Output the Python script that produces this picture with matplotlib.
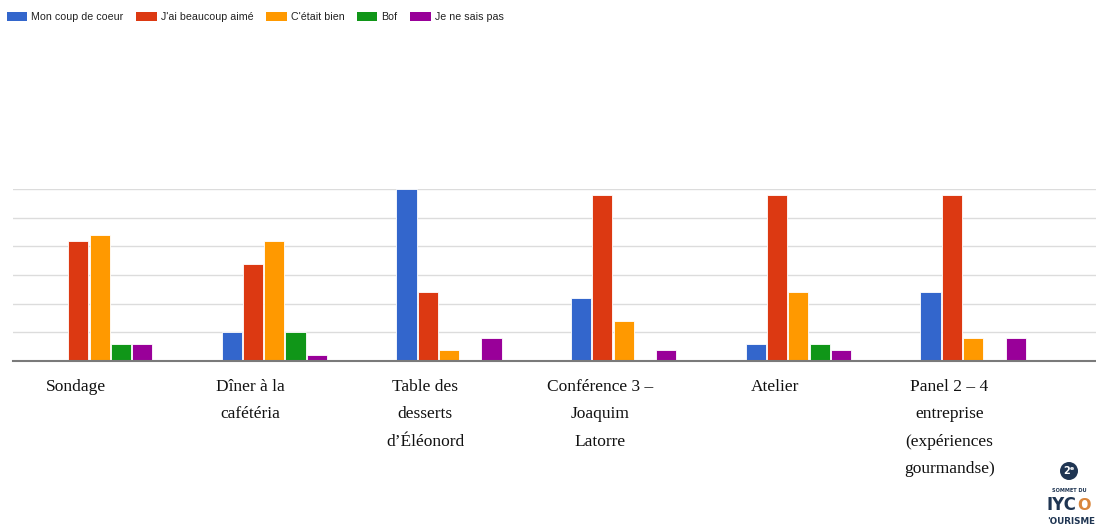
import numpy as np
import matplotlib
matplotlib.use("Agg")
import matplotlib.pyplot as plt
from matplotlib.patches import Rectangle, Ellipse

categories = [
    "Sondage",
    "Dîner à la\ncafétéria",
    "Table des\ndesserts\nd’Éléonord",
    "Conférence 3 –\nJoaquim\nLatorre",
    "Atelier",
    "Panel 2 – 4\nentreprise\n(expériences\ngourmandse)",
]
series_names = ["Mon coup de coeur", "J'ai beaucoup aimé", "C'était bien", "Bof", "Je ne sais pas"]
coup_de_coeur = [0, 5, 30, 11, 3, 12]
beaucoup_aime = [21, 17, 12, 29, 29, 29]
etait_bien = [22, 21, 2, 7, 12, 4]
bof = [3, 5, 0, 0, 3, 0]
ne_sais_pas = [3, 1, 4, 2, 2, 4]
yticks = [0, 5, 10, 15, 20, 25, 30]

couleurs = ["#3366CC", "#DC3912", "#FF9900", "#109618", "#990099"]
valeurs = [coup_de_coeur, beaucoup_aime, etait_bien, bof, ne_sais_pas]

W, H = 1096, 531
fig = plt.figure(figsize=(W / 100, H / 100), dpi=100)
ax = fig.add_axes([13 / W, 1 - 361 / H, 1 - 13 / W, 172 / H])

x = np.arange(len(categories))
pas = 0.122
for j, (nom, vals, c) in enumerate(zip(series_names, valeurs, couleurs)):
    ax.bar(x + (j - 2) * pas, vals, width=0.116, color=c, edgecolor="white",
           linewidth=0.6, label=nom, zorder=3, clip_on=False)

ax.set_xlim(-0.496, 5.704)
ax.set_ylim(0, 30)
ax.set_yticks(yticks)
ax.grid(axis="y", color="#dcdcdc", linewidth=1, zorder=0)
ax.tick_params(left=False, bottom=False, labelleft=False, labelbottom=False)
for s in ["top", "right", "left"]:
    ax.spines[s].set_visible(False)
ax.spines["bottom"].set_color("#7a7a7a")
ax.spines["bottom"].set_linewidth(1.5)
ax.spines["bottom"].set_zorder(4)

# etiquettes des categories (style document Word)
for xi, lab in zip(x, categories):
    ax.annotate(lab, xy=(xi, 0), xytext=(-17, -13), textcoords="offset points",
                ha="center", va="top", fontsize=12.5, family="Liberation Serif",
                color="#111111", linespacing=1.95, annotation_clip=False)

# legende
poignees = [Rectangle((0, 0), 1, 1, facecolor=c, edgecolor="none") for c in couleurs]
fig.legend(poignees, series_names, loc="center left", bbox_to_anchor=(-0.0025, 1 - 17 / H),
           ncol=5, frameon=False, prop={"family": "Liberation Sans", "size": 7.7},
           handlelength=1.9, handleheight=0.85, handletextpad=0.38,
           columnspacing=1.2, labelcolor="#222222")

# petit logo en bas a droite
marine = "#1f3552"
fig.patches.append(Ellipse((1069 / W, 1 - 471 / H), 18 / W, 18 / H, transform=fig.transFigure,
                           facecolor=marine, edgecolor="none"))
fig.text(1069 / W, 1 - 471 / H, "2ᵉ", color="white", fontsize=7, fontweight="bold",
         ha="center", va="center")
fig.text(1069 / W, 1 - 490 / H, "SOMMET DU", color=marine, fontsize=3.6,
         fontweight="bold", ha="center", va="center")
fig.text(1046 / W, 1 - 505 / H, "IYC", color=marine, fontsize=12, fontweight="bold",
         ha="left", va="center")
fig.text(1077 / W, 1 - 505 / H, "O", color="#d9863c", fontsize=11.5, fontweight="bold",
         ha="left", va="center")
fig.text(1047 / W, 1 - 521 / H, "'OURISME", color=marine, fontsize=6.3,
         fontweight="bold", ha="left", va="center")

fig.savefig("out.png", dpi=100)
